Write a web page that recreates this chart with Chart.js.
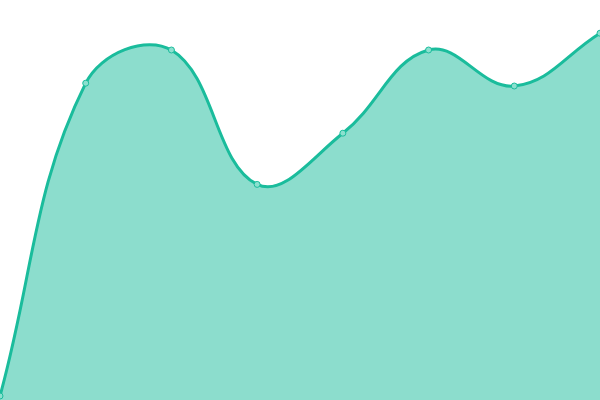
<!DOCTYPE html>
<html>
<head>
<meta charset="utf-8">
<script src="https://cdn.jsdelivr.net/npm/chart.js@4/dist/chart.umd.min.js"></script>
<style>
html,body{margin:0;padding:0;background:#fff;}
#wrap{width:600px;height:400px;}
</style>
</head>
<body>
<div id="wrap"><canvas id="c"></canvas></div>
<script>
const categories = ["1","2","3","4","5","6","7","8"];
const seriesValues = [1, 79.2, 87.5, 53.9, 66.7, 87.5, 78.5, 91.7];

new Chart(document.getElementById('c'), {
  type: 'line',
  data: {
    labels: categories,
    datasets: [{
      data: seriesValues,
      borderColor: '#1abc9c',
      backgroundColor: 'rgba(26,188,156,0.5)',
      borderWidth: 3,
      fill: true,
      tension: 0.4,
      pointRadius: 3,
      pointBorderWidth: 1,
      pointBackgroundColor: 'rgba(140,224,207,1)',
      pointBorderColor: '#1abc9c'
    }]
  },
  options: {
    responsive: true,
    maintainAspectRatio: false,
    animation: false,
    layout: { padding: 0, autoPadding: false },
    plugins: { legend: { display: false }, tooltip: { enabled: false } },
    scales: {
      x: { display: false },
      y: { display: false, min: 0, max: 100 }
    }
  }
});
</script>
</body>
</html>
